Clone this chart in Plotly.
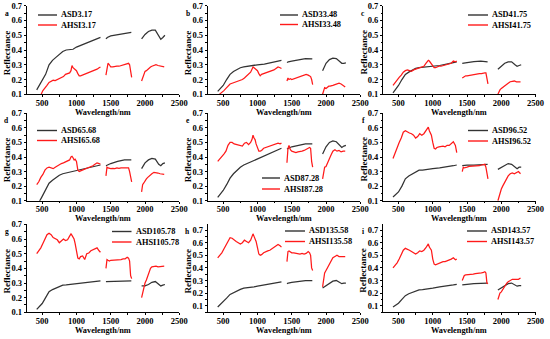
import plotly.graph_objects as go

# ---------------- data ----------------
ASD_WL = [420, 460, 500, 550, 600, 650, 700, 750, 800, 850, 900, 950, 1000, 1100, 1200, 1300, 1350,
          1390,
          1430, 1450, 1500, 1600, 1700, 1800,
          1880,
          1950, 2000, 2050, 2100, 2150, 2200, 2230, 2260, 2290]

AHSI_WL = [420, 450, 480, 510, 540, 570, 600, 630, 660, 690, 720, 750, 780, 810, 840, 870, 900, 920,
           935, 950, 965, 980, 1000, 1020, 1040, 1060, 1090, 1120, 1150, 1180, 1210, 1240, 1270, 1300,
           1330, 1350,
           1390,
           1430, 1445, 1460, 1480, 1500, 1530, 1560, 1590, 1620, 1650, 1680, 1710, 1740, 1760, 1775,
           1790, 1805,
           1880,
           1950, 1965, 1980, 2000, 2020, 2040, 2060, 2080, 2100, 2130, 2160, 2190, 2220, 2250, 2280]

N = None
ASD_A = [0.13, 0.16, 0.19, 0.235, 0.30, 0.33, 0.35, 0.37, 0.39, 0.40, 0.40, 0.405, 0.42, 0.44, 0.455, 0.475, 0.485, N,
         0.475, 0.485, 0.495, 0.505, 0.515, 0.52, N,
         0.475, 0.505, 0.525, 0.535, 0.535, 0.495, 0.472, 0.485, 0.50]
ASD_B = [0.12, 0.14, 0.16, 0.20, 0.235, 0.255, 0.27, 0.28, 0.285, 0.29, 0.29, 0.295, 0.30, 0.305, 0.315, 0.325, 0.33, N,
         0.315, 0.32, 0.325, 0.335, 0.342, 0.34, N,
         0.26, 0.31, 0.335, 0.345, 0.342, 0.325, 0.31, 0.31, 0.312]
ASD_C = [0.11, 0.135, 0.16, 0.20, 0.235, 0.25, 0.265, 0.275, 0.28, 0.282, 0.285, 0.287, 0.29, 0.295, 0.305, 0.315, 0.32, N,
         0.31, 0.312, 0.315, 0.322, 0.325, 0.32, N,
         0.27, 0.29, 0.31, 0.32, 0.32, 0.30, 0.29, 0.295, 0.30]
ASD_D = [0.08, 0.095, 0.13, 0.18, 0.22, 0.24, 0.26, 0.275, 0.285, 0.29, 0.295, 0.30, 0.305, 0.32, 0.33, 0.34, 0.345, N,
         0.34, 0.345, 0.355, 0.37, 0.38, 0.38, N,
         0.32, 0.36, 0.38, 0.39, 0.385, 0.35, 0.34, 0.355, 0.36]
ASD_E = [0.123, 0.145, 0.17, 0.21, 0.255, 0.285, 0.31, 0.33, 0.345, 0.355, 0.365, 0.38, 0.39, 0.41, 0.43, 0.45, 0.46, N,
         0.455, 0.46, 0.47, 0.48, 0.49, 0.49, N,
         0.42, 0.47, 0.50, 0.51, 0.505, 0.48, 0.465, 0.475, 0.48]
ASD_F = [0.125, 0.14, 0.16, 0.20, 0.25, 0.27, 0.285, 0.30, 0.31, 0.31, 0.315, 0.318, 0.32, 0.325, 0.33, 0.34, 0.345, N,
         0.34, 0.342, 0.345, 0.345, 0.35, 0.35, N,
         0.315, 0.33, 0.345, 0.355, 0.35, 0.33, 0.32, 0.33, 0.33]
ASD_G = [0.12, 0.14, 0.16, 0.20, 0.24, 0.255, 0.265, 0.275, 0.285, 0.287, 0.29, 0.292, 0.295, 0.30, 0.305, 0.31, 0.315, N,
         0.31, 0.31, 0.31, 0.315, 0.315, 0.315, N,
         0.28, 0.28, 0.29, 0.305, 0.31, 0.29, 0.28, 0.285, 0.29]
ASD_H = [0.09, 0.11, 0.13, 0.16, 0.19, 0.205, 0.215, 0.23, 0.24, 0.242, 0.245, 0.25, 0.255, 0.265, 0.275, 0.285, 0.29, N,
         0.275, 0.28, 0.285, 0.295, 0.30, 0.30, N,
         0.24, 0.26, 0.28, 0.295, 0.30, 0.285, 0.275, 0.28, 0.28]
ASD_I = [0.09, 0.105, 0.12, 0.15, 0.18, 0.195, 0.205, 0.215, 0.225, 0.227, 0.23, 0.235, 0.24, 0.25, 0.255, 0.265, 0.27, N,
         0.265, 0.267, 0.27, 0.275, 0.28, 0.28, N,
         0.225, 0.24, 0.26, 0.275, 0.28, 0.265, 0.255, 0.26, 0.26]

AHSI_A = [0.06, 0.075, 0.095, 0.125, 0.14, 0.16, 0.18, 0.19, 0.195, 0.193, 0.20, 0.21, 0.215, 0.22, 0.235, 0.24, 0.245, 0.26,
          0.295, 0.28, 0.275, 0.27, 0.26, 0.24, 0.225, 0.225, 0.23, 0.235, 0.24, 0.245, 0.25, 0.255, 0.26, 0.27, 0.28, 0.285, N,
          0.23, 0.29, 0.31, 0.30, 0.285, 0.285, 0.29, 0.29, 0.29, 0.295, 0.30, 0.30, 0.305, 0.31, 0.30, 0.25, 0.215, N,
          0.19, 0.215, 0.23, 0.255, 0.26, 0.27, 0.28, 0.285, 0.29, 0.295, 0.30, 0.295, 0.29, 0.285, 0.285]
AHSI_B = [0.09, 0.10, 0.11, 0.125, 0.14, 0.155, 0.17, 0.175, 0.18, 0.18, 0.185, 0.195, 0.20, 0.21, 0.225, 0.235, 0.25, 0.27,
          0.285, 0.28, 0.275, 0.27, 0.26, 0.24, 0.225, 0.235, 0.24, 0.245, 0.25, 0.255, 0.26, 0.265, 0.275, 0.285, 0.28, 0.275, N,
          0.19, 0.21, 0.20, 0.205, 0.20, 0.205, 0.21, 0.215, 0.22, 0.225, 0.23, 0.235, 0.23, 0.225, 0.22, 0.20, 0.165, N,
          0.10, 0.125, 0.145, 0.14, 0.15, 0.155, 0.155, 0.16, 0.16, 0.165, 0.17, 0.175, 0.17, 0.16, 0.15]
AHSI_C = [0.16, 0.18, 0.20, 0.215, 0.23, 0.25, 0.26, 0.265, 0.26, 0.255, 0.265, 0.27, 0.275, 0.28, 0.285, 0.29, 0.31, 0.325,
          0.33, 0.325, 0.315, 0.31, 0.29, 0.28, 0.28, 0.285, 0.29, 0.29, 0.295, 0.30, 0.30, 0.305, 0.31, 0.325, 0.32, 0.325, N,
          0.21, 0.215, 0.22, 0.225, 0.225, 0.228, 0.23, 0.232, 0.235, 0.237, 0.24, 0.24, 0.245, 0.245, 0.245, 0.19, 0.17, N,
          0.10, 0.12, 0.13, 0.14, 0.148, 0.155, 0.162, 0.17, 0.175, 0.185, 0.19, 0.19, 0.185, 0.185, 0.185]
AHSI_D = [0.21, 0.23, 0.26, 0.28, 0.31, 0.325, 0.33, 0.325, 0.32, 0.33, 0.34, 0.345, 0.355, 0.36, 0.365, 0.37, 0.38, 0.40,
          0.405, 0.395, 0.38, 0.385, 0.37, 0.31, 0.30, 0.305, 0.31, 0.315, 0.32, 0.325, 0.33, 0.34, 0.35, 0.36, 0.355, 0.35, N,
          0.27, 0.33, 0.325, 0.32, 0.32, 0.322, 0.32, 0.325, 0.322, 0.325, 0.325, 0.328, 0.325, 0.325, 0.30, 0.25, 0.23, N,
          0.16, 0.21, 0.22, 0.24, 0.25, 0.26, 0.27, 0.28, 0.285, 0.295, 0.295, 0.29, 0.285, 0.285, 0.28]
AHSI_E = [0.37, 0.385, 0.40, 0.42, 0.44, 0.48, 0.50, 0.50, 0.49, 0.485, 0.48, 0.48, 0.475, 0.495, 0.50, 0.485, 0.50, 0.52,
          0.55, 0.53, 0.52, 0.49, 0.47, 0.44, 0.44, 0.445, 0.46, 0.465, 0.47, 0.47, 0.48, 0.48, 0.49, 0.495, 0.49, 0.495, N,
          0.36, 0.46, 0.48, 0.45, 0.44, 0.435, 0.43, 0.435, 0.435, 0.44, 0.445, 0.45, 0.46, 0.465, 0.46, 0.37, 0.33, N,
          0.25, 0.30, 0.33, 0.335, 0.36, 0.38, 0.40, 0.42, 0.44, 0.45, 0.44, 0.445, 0.435, 0.44, 0.44]
AHSI_F = [0.39, 0.43, 0.46, 0.50, 0.53, 0.57, 0.58, 0.57, 0.565, 0.56, 0.55, 0.53, 0.54, 0.56, 0.55, 0.56, 0.58, 0.60,
          0.605, 0.58, 0.565, 0.55, 0.50, 0.46, 0.455, 0.465, 0.47, 0.475, 0.475, 0.47, 0.48, 0.48, 0.49, 0.505, 0.48, 0.43, N,
          0.30, 0.33, 0.325, 0.33, 0.33, 0.335, 0.335, 0.34, 0.335, 0.34, 0.34, 0.345, 0.345, 0.35, 0.33, 0.27, 0.25, N,
          0.10, 0.13, 0.16, 0.18, 0.20, 0.22, 0.24, 0.26, 0.27, 0.285, 0.29, 0.285, 0.295, 0.30, 0.285]
AHSI_G = [0.50, 0.52, 0.54, 0.57, 0.60, 0.63, 0.64, 0.63, 0.61, 0.60, 0.595, 0.575, 0.59, 0.60, 0.59, 0.595, 0.62, 0.635,
          0.625, 0.61, 0.60, 0.57, 0.52, 0.47, 0.465, 0.48, 0.485, 0.46, 0.50, 0.505, 0.52, 0.525, 0.535, 0.54, 0.52, 0.51, N,
          0.40, 0.46, 0.455, 0.45, 0.455, 0.455, 0.455, 0.46, 0.46, 0.46, 0.465, 0.465, 0.475, 0.47, 0.45, 0.35, 0.33, N,
          0.20, 0.23, 0.28, 0.30, 0.32, 0.35, 0.38, 0.40, 0.41, 0.415, 0.415, 0.41, 0.41, 0.415, 0.415]
AHSI_H = [0.48, 0.50, 0.52, 0.55, 0.58, 0.62, 0.64, 0.635, 0.62, 0.61, 0.60, 0.59, 0.60, 0.62, 0.61, 0.60, 0.62, 0.66,
          0.67, 0.65, 0.63, 0.61, 0.56, 0.51, 0.50, 0.505, 0.52, 0.53, 0.535, 0.54, 0.55, 0.56, 0.57, 0.585, 0.575, 0.565, N,
          0.45, 0.53, 0.535, 0.53, 0.52, 0.52, 0.515, 0.515, 0.51, 0.515, 0.51, 0.515, 0.53, 0.52, 0.50, 0.40, 0.38, N,
          0.25, 0.33, 0.36, 0.38, 0.40, 0.43, 0.45, 0.47, 0.48, 0.49, 0.50, 0.49, 0.49, 0.495, 0.49]
AHSI_I = [0.40, 0.42, 0.44, 0.47, 0.50, 0.54, 0.555, 0.55, 0.54, 0.53, 0.52, 0.51, 0.52, 0.535, 0.53, 0.54, 0.56, 0.585,
          0.59, 0.565, 0.55, 0.54, 0.47, 0.43, 0.425, 0.43, 0.44, 0.445, 0.45, 0.45, 0.455, 0.46, 0.47, 0.48, 0.465, 0.47, N,
          0.30, 0.33, 0.34, 0.345, 0.345, 0.35, 0.35, 0.35, 0.355, 0.355, 0.36, 0.36, 0.365, 0.37, 0.36, 0.28, 0.275, N,
          0.15, 0.18, 0.20, 0.21, 0.23, 0.25, 0.27, 0.28, 0.29, 0.30, 0.31, 0.31, 0.31, 0.31, 0.32]

PANEL_LETTERS = ["a", "b", "c", "d", "e", "f", "g", "h", "i"]
SAMPLE_IDS = ["3.17", "33.48", "41.75", "65.68", "87.28", "96.52", "105.78", "135.58", "143.57"]
ASD_SERIES = [ASD_A, ASD_B, ASD_C, ASD_D, ASD_E, ASD_F, ASD_G, ASD_H, ASD_I]
AHSI_SERIES = [AHSI_A, AHSI_B, AHSI_C, AHSI_D, AHSI_E, AHSI_F, AHSI_G, AHSI_H, AHSI_I]
X_TICKS = [500, 1000, 1500, 2000, 2500]
Y_TICKS = [0.1, 0.2, 0.3, 0.4, 0.5, 0.6, 0.7]

for s in ASD_SERIES:
    assert len(s) == len(ASD_WL), len(s)
for s in AHSI_SERIES:
    assert len(s) == len(AHSI_WL), len(s)

# ---------------- layout (pixels) ----------------
W, H = 550, 339
COL_LEFT = [26.7, 207.7, 383.0]
PLOT_W = 152.6
ROW_TOP = [5.7, 113.3, 224.4]
ROW_BOT = [94.3, 200.7, 312.3]
Y_RANGES = [[0.1, 0.7]] * 7 + [[0.048, 0.745]] * 2
X_RANGE = [274, 2500]
# legend: (line x0, line x1, text x, y1, y2)
LEG = [(38, 57, 59, 15, 25), (280, 298, 300, 15, 24.5), (468, 488, 490, 15, 25),
       (37, 57, 58.5, 130.5, 140.5), (262, 280, 282, 178, 189), (468, 488, 490, 130.5, 141),
       (112, 131.5, 133.5, 231.5, 242), (285, 305, 306.5, 231, 241.5), (467, 487, 488.5, 231, 241.5)]

ASD_COLOR = "#333333"
AHSI_COLOR = "#ff1a1a"
FONT = "Liberation Serif"
TICK_SIZE = 8.5
TITLE_SIZE = 8.3
LEG_SIZE = 8.3


def px(x):
    return x / W


def py(y):
    return 1 - y / H


fig = go.Figure()
annotations = []
shapes = []
layout = {}
for k in range(9):
    r, c = divmod(k, 3)
    sfx = "" if k == 0 else str(k + 1)
    xa, ya = "x" + sfx, "y" + sfx
    fig.add_trace(go.Scatter(x=ASD_WL, y=ASD_SERIES[k], mode="lines", connectgaps=False,
                             line=dict(color=ASD_COLOR, width=1.25), xaxis=xa, yaxis=ya,
                             name="ASD" + SAMPLE_IDS[k], showlegend=False))
    fig.add_trace(go.Scatter(x=AHSI_WL, y=AHSI_SERIES[k], mode="lines", connectgaps=False,
                             line=dict(color=AHSI_COLOR, width=1.25), xaxis=xa, yaxis=ya,
                             name="AHSI" + SAMPLE_IDS[k], showlegend=False))
    x0, x1 = COL_LEFT[c], COL_LEFT[c] + PLOT_W
    axis_common = dict(showline=True, linecolor="black", linewidth=1, ticks="outside", ticklen=2,
                       tickcolor="black", tickwidth=1, showgrid=False, zeroline=False,
                       tickfont=dict(family=FONT, size=TICK_SIZE, color="black", weight="bold"),
                       automargin=False, ticklabeloverflow="allow")
    layout["xaxis" + sfx] = dict(axis_common, domain=[px(x0), px(x1)], range=X_RANGE, anchor=ya,
                                 tickvals=X_TICKS, ticklabelstandoff=-2,
                                 minor=dict(dtick=250, tick0=0, ticks="outside", ticklen=1.5, tickcolor="black"))
    layout["yaxis" + sfx] = dict(axis_common, domain=[py(ROW_BOT[r]), py(ROW_TOP[r])], range=Y_RANGES[k],
                                 anchor=xa, tickvals=Y_TICKS, tickformat=".1f", ticklabelstandoff=0,
                                 minor=dict(dtick=0.05, tick0=0, ticks="outside", ticklen=1.5, tickcolor="black"))
    # axis titles
    annotations.append(dict(x=px((x0 + x1) / 2), y=py(ROW_BOT[r] + 18), xref="paper", yref="paper",
                            text="Wavelength/nm", showarrow=False, xanchor="center", yanchor="middle",
                            font=dict(family=FONT, size=TITLE_SIZE, color="black", weight="bold")))
    annotations.append(dict(x=px(x0 - 19.5), y=py((ROW_TOP[r] + ROW_BOT[r]) / 2 + 3), xref="paper", yref="paper",
                            text="Reflectance", showarrow=False, textangle=-90, xanchor="center", yanchor="middle",
                            font=dict(family=FONT, size=TITLE_SIZE + 0.7, color="black", weight="bold")))
    # panel letter
    annotations.append(dict(x=px(x0 - 20), y=py(ROW_TOP[r] + 7.5), xref="paper", yref="paper",
                            text=PANEL_LETTERS[k], showarrow=False, xanchor="center", yanchor="middle",
                            font=dict(family=FONT, size=7.5, color="black", weight="bold")))
    # legend
    lx0, lx1, tx, ly1, ly2 = LEG[k]
    for (yy, col, nm) in [(ly1, ASD_COLOR, "ASD" + SAMPLE_IDS[k]), (ly2, AHSI_COLOR, "AHSI" + SAMPLE_IDS[k])]:
        shapes.append(dict(type="line", xref="paper", yref="paper", x0=px(lx0), x1=px(lx1), y0=py(yy), y1=py(yy),
                           line=dict(color=col, width=1.4)))
        annotations.append(dict(x=px(tx), y=py(yy), xref="paper", yref="paper", text=nm, showarrow=False,
                                xanchor="left", yanchor="middle",
                                font=dict(family=FONT, size=LEG_SIZE, color="black", weight="bold")))

fig.update_layout(width=W, height=H, margin=dict(l=0, r=0, t=0, b=0), paper_bgcolor="white",
                  plot_bgcolor="white", showlegend=False, annotations=annotations, shapes=shapes, **layout)
fig.write_html("out.html", config={"displayModeBar": False},
               post_script="document.body.style.margin='0';")
